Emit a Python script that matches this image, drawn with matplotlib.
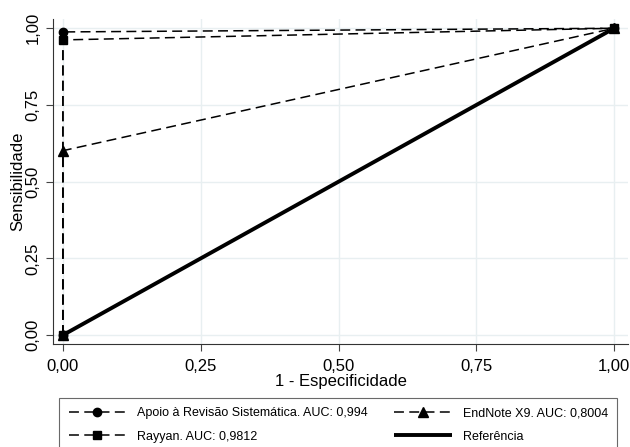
import matplotlib
matplotlib.use("Agg")
import matplotlib.pyplot as plt
from matplotlib.ticker import FuncFormatter

plt.rcParams['font.family'] = ['Liberation Sans', 'DejaVu Sans']

# dados das curvas ROC
fpr = [0.0, 0.0, 1.0]
sens_apoio = [0.0, 0.988, 1.0]
sens_rayyan = [0.0, 0.962, 1.0]
sens_endnote = [0.0, 0.601, 1.0]
ref_x = [0.0, 1.0]
ref_y = [0.0, 1.0]

labels = ["Apoio à Revisão Sistemática. AUC: 0,994",
          "Rayyan. AUC: 0,9812",
          "EndNote X9. AUC: 0,8004",
          "Referência"]
ticks = [0.0, 0.25, 0.5, 0.75, 1.0]

fig = plt.figure(figsize=(6.3, 4.47), dpi=100)
ax = fig.add_axes([0.0841, 0.2304, 0.9127, 0.727])

dash = (0, (6.5, 3.5))
l1, = ax.plot(fpr, sens_apoio, color="black", lw=1.1, ls=dash, marker="o", ms=6)
l2, = ax.plot(fpr, sens_rayyan, color="black", lw=1.1, ls=dash, marker="s", ms=6)
l3, = ax.plot(fpr, sens_endnote, color="black", lw=1.1, ls=dash, marker="^", ms=6.5)
l4, = ax.plot(ref_x, ref_y, color="black", lw=2.8, solid_capstyle="butt")

ax.set_xlim(-0.018, 1.025)
ax.set_ylim(-0.029, 1.03)
ax.set_xticks(ticks)
ax.set_yticks(ticks)
fmt = FuncFormatter(lambda v, p: f"{v:.2f}".replace(".", ","))
ax.xaxis.set_major_formatter(fmt)
ax.yaxis.set_major_formatter(fmt)
ax.tick_params(labelsize=12, length=5, width=0.8, color="#444444", pad=4)
ax.tick_params(axis="x", pad=5.5)
for lab in ax.get_yticklabels():
    lab.set_rotation(90)
    lab.set_va("center")
ax.grid(True, color="#e8eff1", lw=1)
ax.set_axisbelow(True)
for s in ["top", "right"]:
    ax.spines[s].set_visible(False)
for s in ["left", "bottom"]:
    ax.spines[s].set_linewidth(0.8)
    ax.spines[s].set_color("#333333")

ax.set_xlabel("1 - Especificidade", fontsize=12, labelpad=0)
ax.set_ylabel("Sensibilidade", fontsize=12, labelpad=0)

leg = fig.legend([l1, l2, l3, l4], labels, ncol=2, mode="expand",
                 bbox_to_anchor=(0.094, 0.0, 0.886, 1 - 398 / 447), loc="upper left",
                 fontsize=9, handlelength=4.6, handletextpad=0.9,
                 fancybox=False, edgecolor="#444444", borderaxespad=0,
                 labelspacing=0.9, borderpad=0.75)
leg.get_frame().set_linewidth(0.8)

fig.savefig("out.png", dpi=100, facecolor="white")
